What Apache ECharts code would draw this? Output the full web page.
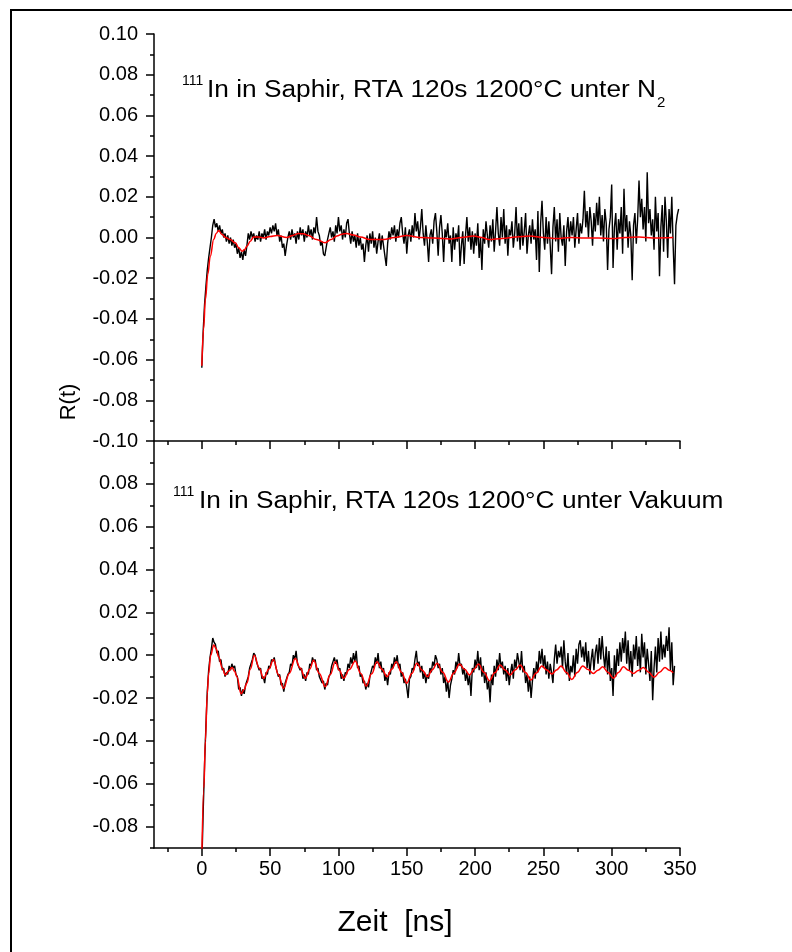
<!DOCTYPE html>
<html>
<head>
<meta charset="utf-8">
<script src="https://cdn.jsdelivr.net/npm/echarts@6/dist/echarts.min.js"></script>
<style>
  html, body { margin: 0; padding: 0; background: #fff; }
  #chart { width: 792px; height: 952px; }
</style>
</head>
<body>
<div id="chart"></div>
<script>
// Achsen
const xMajorTicks = [0, 50, 100, 150, 200, 250, 300, 350];
const xMinorTicks = [-25, 25, 75, 125, 175, 225, 275, 325];
const topYTicks = [-0.10, -0.08, -0.06, -0.04, -0.02, 0.00, 0.02, 0.04, 0.06, 0.08, 0.10];
const topYMinor = [-0.09, -0.07, -0.05, -0.03, -0.01, 0.01, 0.03, 0.05, 0.07, 0.09];
const bottomYLabels = [-0.08, -0.06, -0.04, -0.02, 0.00, 0.02, 0.04, 0.06, 0.08];
const bottomYTicks = [-0.08, -0.06, -0.04, -0.02, 0.00, 0.02, 0.04, 0.06, 0.08, 0.10];
const bottomYMinor = [-0.09, -0.07, -0.05, -0.03, -0.01, 0.01, 0.03, 0.05, 0.07, 0.09];

// Messdaten R(t) in Einheiten von 1e-3, ein Kanal pro ns ab t = 0
// oben: RTA unter N2
const rawTop = [
  -64, -46, -33, -24, -16, -10, -5, 0, 6, 9,
  5, 7, 3, 6, 2, 4, 0, 2, -2, 1,
  -3, 0, -4, -1, -5, -3, -8, -5, -10, -7,
  -11, -6, -9, -4, 2, -1, 3, 0, 2, -2,
  1, -1, 3, -2, 2, 0, 4, -1, 3, 1,
  5, 2, 6, 3, 7, 1, 4, -2, 1, -5,
  -3, -9, -4, 0, 3, -1, 4, 0, 2, -3,
  3, -1, 5, 1, 4, -2, 3, 0, 6, 1,
  4, -1, 5, 2, 10, 3, 1, -4, -2, -8,
  -9, -5, -1, 2, 5, 0, 3, -2, 6, 2,
  10, 3, 6, -1, 4, 0, 7, 9, 2, -3,
  3, -2, 1, -5, 2, -4, 0, -6, -3, -12,
  -4, 1, -7, 2, -3, 3, -5, 0, -8, -2,
  2, -6, 1, -4, -9, -14, -3, 3, -1, 5,
  1, 6, -2, 4, 0, 7, 10, 2, -3, 5,
  -8, 1, 4, -2, 6, 0, 12, 3, 8, -1,
  5, 14, 2, -4, 6, -2, -12, 1, 4, -3,
  8, 12, 3, -9, 5, 11, 2, -12, 4, 0,
  7, -3, 1, -12, 5, -6, 2, -2, 6, -14,
  -4, 3, -13, 1, 10, -2, 5, -6, 3, -8,
  2, -4, 7, -10, 0, -16, 4, -3, 8, 1,
  -5, 6, -2, 9, -7, 3, 15, 2, -4, 10,
  0, 14, -3, 6, -9, 4, 1, 8, -5, 2,
  15, -2, 7, -6, 10, -4, 3, 12, -8, 1,
  6, -3, 9, -1, 4, -11, 13, -17, 7, 18,
  2, -6, 10, -3, 8, -4, -18, 5, 15, -2,
  9, -7, 12, 0, -4, 6, -14, 3, 10, -2,
  8, 1, 10, -5, 4, 12, -3, 7, 2, 9,
  23, 5, 13, 0, 15, 8, -4, 12, 3, 17,
  6, 20, 1, 11, -2, 14, 7, -16, 4, 10,
  26, -15, 5, 12, -6, 9, 2, 15, -8, 24,
  3, 11, -5, 8, 1, -21, 6, 12, -3, 9,
  28, 10, 19, 4, 15, -2, 32, 7, 14, 1,
  9, -6, 20, 3, 12, -19, 5, 16, -7, 20,
  8, -10, 14, 2, 20, -4, -23, 6, 11, 14
];
// unten: RTA unter Vakuum
const rawBottom = [
  -98, -73, -51, -33, -17, -7, -1, 3, 8, 6,
  5, 1, 2, -3, -2, -7, -6, -10, -8, -9,
  -5, -7, -4, -6, -5, -9, -10, -16, -15, -19,
  -16, -18, -14, -12, -10, -6, -6, -2, 1, 0,
  -3, -3, -7, -6, -11, -10, -13, -8, -9, -5,
  -6, -2, -3, -1, -5, -5, -10, -9, -14, -13,
  -17, -13, -13, -9, -8, -4, -5, 0, -2, 2,
  -4, -4, -7, -6, -11, -9, -12, -8, -9, -4,
  -5, -1, -3, -2, -7, -6, -10, -10, -13, -12,
  -16, -13, -14, -10, -9, -5, -5, -1, -4, -2,
  -7, -6, -11, -9, -12, -8, -9, -4, -6, -1,
  -4, 1, -3, 2, -6, -5, -10, -9, -13, -12,
  -16, -13, -15, -10, -10, -5, -6, -1, -4, 1,
  -6, -3, -8, -6, -12, -9, -14, -8, -9, -4,
  -6, -1, -4, 0, -6, -4, -10, -8, -13, -11,
  -15, -20, -11, -10, -6, -7, -2, 2, -5, -3,
  -8, -5, -11, -8, -13, -9, -11, -6, -8, -3,
  -5, 0, -2, -6, -4, -9, -6, -13, -10, -17,
  -12, -20, -14, -11, -7, -9, -3, -6, 1, -5,
  -4, -9, -6, -12, -8, -14, -9, -19, -6, -8,
  -2, -6, 2, -7, -1, -10, -5, -13, -8, -16,
  -12, -22, -9, -14, -5, -10, -2, -7, 1, -6,
  -3, -9, -5, -12, -6, -14, -8, -4, -11, -2,
  -6, 1, -3, -7, 2, -8, -5, -13, -9, -17,
  -10, -20, -12, -6, -11, -3, -8, 2, -4, 3,
  -6, 0, -9, -3, -11, -4, -8, -13, -2, 5,
  -4, 2, -1, 4, -6, 7, -3, -9, 1, -12,
  -5, -8, 0, -10, 3, -4, 5, 7, -1, 4,
  -3, 6, -6, 2, -9, -2, 3, -7, 1, 5,
  -4, 8, -2, 9, 0, -6, 4, -9, 2, -12,
  -6, -19, 0, -10, 3, -5, 6, -3, 8, 1,
  11, -4, 7, -7, 2, -10, 5, -2, 9, -5,
  4, -8, 10, -1, 6, -9, 3, -4, -12, 2,
  -21, -6, 4, -8, 8, -3, 11, -2, 5, -1,
  9, 2, 13, -7, 6, -14, -5
];

// Anpassung (Fit), Stuetzstellen t [ns] und R(t) in 1e-3
const fitTopT = [0, 1.3, 2.6, 4.4, 6.2, 8.7, 10.5, 12.3, 14.8, 17.5, 20.8, 24.5, 27, 29.4, 31.2, 33, 35.5, 37.9,
  41.5, 45.2, 50, 55, 62.3, 66.5, 70.8, 74.4, 78, 84, 90.3, 94.6, 98.9, 102.5, 106, 111, 116, 123, 133,
  141, 150, 160, 170, 182, 190, 199, 205, 210, 220, 230, 240, 250, 260, 270, 280, 290, 301, 310, 320, 330, 345];
const fitTopR = [-63, -45, -30.5, -18, -9.2, -1, 2, 3.4, 1.5, 0, -1, -2.6, -5, -6.7, -6, -4.3, -1.8, 0.2,
  0.3, -0.2, 0.5, 1, 0, 1, 2, 1.8, 1, -1, -2.6, -1, 0.7, 1.6, 2, 1.2, 0.3, -1, -1,
  0, 1, 0, -0.3, -0.7, 0, 0.7, 0, -1, -0.5, 0.3, 0.7, 0, -0.5, 0, -0.3, -0.2, -0.5, 0, 0.2, -0.2, 0];

const fitBottomT = [0, 1.5, 2.6, 4, 5, 6.5, 8.7, 10.5, 12.3, 15, 17.2, 19.5, 22.1, 24, 25.7, 28.7, 31, 33, 35.5,
  38.4, 42, 45.2, 49, 52.5, 56, 59.8, 64, 68.4, 72, 75.7, 79, 81.8, 86, 90.3, 94, 97.7, 100.7, 103.7, 108,
  112.3, 116.3, 120.3, 124.3, 128.2, 131.8, 135.5, 139, 142.3, 146.2, 150, 153.7, 157.4, 161.3, 165.2, 168.7,
  172.2, 176.3, 180.5, 184.5, 188.6, 192.3, 196, 199.2, 202.5, 206.5, 210.5, 214.4, 218.4, 222, 225.7, 229.3,
  233, 236.9, 240.8, 244.8, 248.9, 252.5, 256.2, 259.6, 263, 266.9, 270.8, 274.8, 278.8, 282.7, 286.6, 290,
  293.5, 297.4, 301.3, 305, 308.6, 312.2, 315.9, 319.5, 323.2, 327.1, 331, 335, 339, 342, 345];
const fitBottomR = [-95, -62, -40, -18, -8.5, 0, 4.8, 3, -0.7, -6, -9.2, -7.5, -5.7, -7.5, -10, -18, -16, -13, -6.5,
  0, -6, -10.8, -6.5, -2, -9, -15.5, -8.5, -1.5, -6, -10.8, -6.5, -2.3, -8.5, -14.7, -9, -3, -7, -10.8, -6.7,
  -2.7, -8.5, -14.4, -8.7, -3, -6.5, -10, -6.5, -3, -8, -13.1, -8.5, -3.8, -7, -10, -6.8,
  -3.7, -8, -12.6, -8.3, -4.1, -6.6, -9.2, -6.6, -4.1, -8, -11.9, -8.2, -4.6, -6.9, -9.2, -6.9,
  -4.6, -8.1, -11.6, -8.3, -5, -6.9, -8.8, -6.9, -5, -8.1, -11.3, -8.1, -5, -6.7, -8.5, -7,
  -5.4, -8.1, -10.8, -8.1, -5.4, -7, -8.5, -7.1, -5.7, -8, -10.3, -8, -5.7, -7, -8.2];

const toPoints = (arr) => arr.map((v, i) => [i, v / 1000]);
const toFit = (ts, rs) => ts.map((t, i) => [t, rs[i] / 1000]);

const font = 'Arial, "Liberation Sans", Helvetica, sans-serif';
const black = '#000';

function xAxisCfg(grid, ticks, len, withLine, withLabels) {
  return {
    type: 'value', gridIndex: grid, min: -35, max: 350, position: 'bottom',
    axisLine: { show: withLine, onZero: false, lineStyle: { color: black, width: 1.5 } },
    axisTick: { show: true, customValues: ticks, length: len, inside: false, lineStyle: { color: black, width: 1.5 } },
    axisLabel: withLabels ? {
      show: true, customValues: ticks, margin: 11, color: black, fontSize: 20, fontFamily: font
    } : { show: false },
    splitLine: { show: false }
  };
}

function yAxisCfg(grid, min, max, ticks, labels, len, withLine) {
  return {
    type: 'value', gridIndex: grid, min: min, max: max, position: 'left',
    axisLine: { show: withLine, onZero: false, lineStyle: { color: black, width: 1.5 } },
    axisTick: { show: true, customValues: ticks, length: len, inside: false, lineStyle: { color: black, width: 1.5 } },
    axisLabel: labels ? {
      show: true, customValues: labels, margin: 16, color: black, fontSize: 20, fontFamily: font,
      formatter: (v) => Number(v).toFixed(2)
    } : { show: false },
    splitLine: { show: false }
  };
}

const chart = echarts.init(document.getElementById('chart'), null, { renderer: 'canvas' });

const option = {
  animation: false,
  backgroundColor: '#fff',
  grid: [
    { left: 154, top: 34, width: 526, height: 407 },
    { left: 154, top: 441, width: 526, height: 407 }
  ],
  xAxis: [
    xAxisCfg(0, xMajorTicks, 8, true, false),
    xAxisCfg(0, xMinorTicks, 4, false, false),
    xAxisCfg(1, xMajorTicks, 8, true, true),
    xAxisCfg(1, xMinorTicks, 4, false, false)
  ],
  yAxis: [
    yAxisCfg(0, -0.10, 0.10, topYTicks, topYTicks, 8, true),
    yAxisCfg(0, -0.10, 0.10, topYMinor, null, 4, false),
    yAxisCfg(1, -0.09, 0.10, bottomYTicks, bottomYLabels, 8, true),
    yAxisCfg(1, -0.09, 0.10, bottomYMinor, null, 4, false)
  ],
  series: [
    {
      type: 'line', xAxisIndex: 0, yAxisIndex: 0, data: toPoints(rawTop),
      showSymbol: false, lineStyle: { color: black, width: 1.4 }, z: 2
    },
    {
      type: 'line', xAxisIndex: 0, yAxisIndex: 0, data: toFit(fitTopT, fitTopR),
      showSymbol: false, smooth: 0.4, smoothMonotone: 'x',
      lineStyle: { color: '#ff0000', width: 1.5 }, z: 3
    },
    {
      type: 'line', xAxisIndex: 2, yAxisIndex: 2, data: toPoints(rawBottom),
      showSymbol: false, lineStyle: { color: black, width: 1.4 }, z: 2
    },
    {
      type: 'line', xAxisIndex: 2, yAxisIndex: 2, data: toFit(fitBottomT, fitBottomR),
      showSymbol: false, smooth: 0.4, smoothMonotone: 'x',
      lineStyle: { color: '#ff0000', width: 1.5 }, z: 3
    }
  ],
  graphic: [
    // Rahmen
    { type: 'rect', shape: { x: 11, y: 10, width: 900, height: 1000 },
      style: { fill: 'none', stroke: black, lineWidth: 2 }, silent: true },
    // Achsentitel
    { type: 'text', x: 69, y: 402, rotation: Math.PI / 2,
      style: { text: 'R(t)', font: '22px ' + font, fill: black, align: 'center', verticalAlign: 'middle' } },
    { type: 'text', x: 395, y: 923,
      style: { text: 'Zeit  [ns]', font: '30px ' + font, fill: black, align: 'center', verticalAlign: 'middle' } },
    // Beschriftung oben
    { type: 'text', x: 182, y: 81,
      style: { text: '111', font: '14px ' + font, fill: black, align: 'left', verticalAlign: 'middle' } },
    { type: 'text', x: 207, y: 91, scaleX: 1.142,
      style: { text: 'In in Saphir, RTA 120s 1200°C unter N', font: '23px ' + font, fill: black, align: 'left', verticalAlign: 'middle' } },
    { type: 'text', x: 657, y: 103,
      style: { text: '2', font: '15px ' + font, fill: black, align: 'left', verticalAlign: 'middle' } },
    // Beschriftung unten
    { type: 'text', x: 173, y: 492,
      style: { text: '111', font: '14px ' + font, fill: black, align: 'left', verticalAlign: 'middle' } },
    { type: 'text', x: 199, y: 502, scaleX: 1.142,
      style: { text: 'In in Saphir, RTA 120s 1200°C unter Vakuum', font: '23px ' + font, fill: black, align: 'left', verticalAlign: 'middle' } }
  ]
};

chart.setOption(option);
</script>
</body>
</html>
